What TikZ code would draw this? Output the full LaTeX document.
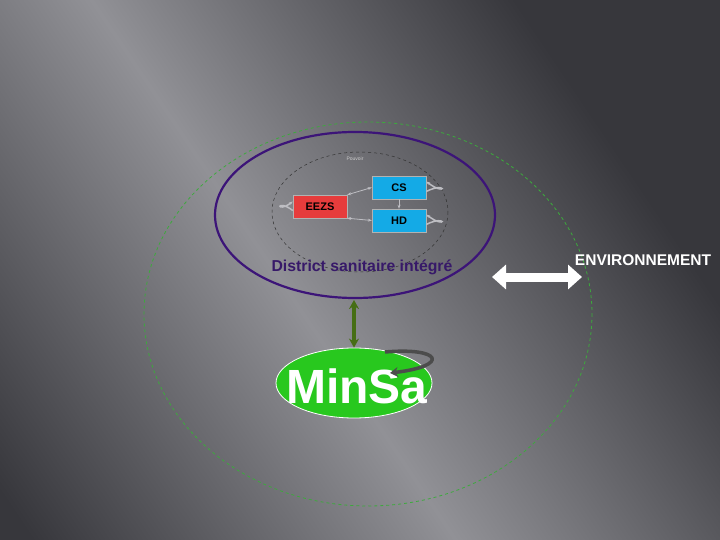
\documentclass[tikz,border=0pt]{standalone}
\usepackage{fontspec}
\setmainfont{Liberation Sans}
\usetikzlibrary{arrows.meta,shapes.geometric}
\definecolor{bgdark}{RGB}{55,55,60}
\definecolor{bglight}{RGB}{145,145,150}
\definecolor{loopc}{RGB}{190,190,195}
\definecolor{purp}{RGB}{60,20,120}
\definecolor{txtpurp}{RGB}{55,25,105}
\definecolor{cyanbox}{RGB}{20,170,230}
\definecolor{redbox}{RGB}{230,60,60}
\definecolor{minsa}{RGB}{40,200,30}
\definecolor{darkg}{RGB}{70,110,20}
\definecolor{outg}{RGB}{60,170,60}
\pgfdeclarehorizontalshading{streak}{100bp}{color(0bp)=(bgdark); color(42bp)=(bgdark); color(50bp)=(bglight); color(58bp)=(bgdark); color(100bp)=(bgdark)}
\tikzset{
  boxn/.style={draw=gray!60, minimum width=54pt, minimum height=23pt, font=\bfseries\fontsize{11}{11}\selectfont, text=black, inner sep=0pt},
  loopar/.style={draw=loopc, line width=1.5pt, -{Stealth[length=4pt]}},
  thinar/.style={draw=loopc, line width=0.8pt, {Stealth[length=4pt]}-{Stealth[length=4pt]}}
}
\begin{document}
\begin{tikzpicture}[x=1pt,y=-1pt]
\useasboundingbox (0,0) rectangle (720,540);
\begin{scope}
\clip (0,0) rectangle (720,540);
\fill[bgdark] (0,0) rectangle (720,540);
\shade[shading=streak, shading angle=34] (-840,-850) rectangle (1360,1350);
\end{scope}
% outer green dashed ellipse
\draw[outg, dashed, line width=0.8pt] (368,314) ellipse [x radius=224, y radius=192];
% purple ellipse
\draw[purp, line width=2.2pt] (355,215) ellipse [x radius=140, y radius=83];
% inner grey dashed ellipse
\draw[gray!40!black, dashed, line width=0.5pt] (360,212) ellipse [x radius=88, y radius=60];
\node[text=gray!40, font=\fontsize{5}{5}\selectfont] (pv) at (355,159) {Pouvoir};
\node[boxn, fill=redbox] (eezs) at (320,206.5) {EEZS};
\node[boxn, fill=cyanbox] (cs) at (399,187.5) {CS};
\node[boxn, fill=cyanbox] (hd) at (399,220.5) {HD};
\draw[thinar] (eezs.north east) -- (cs.west);
\draw[thinar] (eezs.south east) -- (hd.west);
\draw[draw=loopc, line width=0.8pt, -{Stealth[length=4pt]}] (cs.south) -- (hd.north);
\draw[loopar] ([yshift=-4pt]eezs.west) .. controls (276,198) and (276,214) .. ([yshift=5pt]eezs.west);
\draw[loopar] ([yshift=-4pt]cs.east) .. controls (447,181) and (447,197) .. ([yshift=6pt]cs.east);
\draw[loopar] ([yshift=-4pt]hd.east) .. controls (447,214) and (447,230) .. ([yshift=6pt]hd.east);
\node[text=txtpurp, font=\bfseries\fontsize{15.8}{16}\selectfont] (dsi) at (362,267) {District sanitaire intégré};
% MinSa
\node[ellipse, draw=white, line width=0.8pt, fill=minsa, minimum width=156pt, minimum height=70pt, inner sep=0pt] (ms) at (354,383) {};
\node[text=white, font=\bfseries\fontsize{48}{48}\selectfont] (mst) at (357,386) {MinSa};
\draw[draw=gray!60!black, line width=3.5pt, -{Stealth[length=8pt,width=10pt]}] (385,352) .. controls (442,347) and (450,366) .. (390,373);
\coordinate (purpb) at (354,300);
\draw[darkg, line width=3.5pt, {Stealth[length=9pt,width=10pt]}-{Stealth[length=9pt,width=10pt]}] (purpb) -- (ms.north);
% environment arrow
\coordinate (ea) at (492,277);
\coordinate (eb) at (582,277);
\draw[white, line width=9pt, {Triangle[length=14pt,width=24pt]}-{Triangle[length=14pt,width=24pt]}] (ea) -- (eb);
\node[text=white, font=\bfseries\fontsize{15.5}{16}\selectfont] (env) at (643,260) {ENVIRONNEMENT};
\end{tikzpicture}
\end{document}
